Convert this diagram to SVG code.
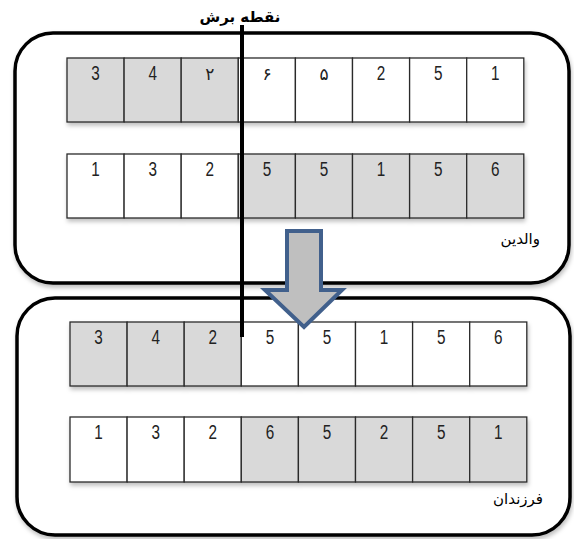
<svg xmlns="http://www.w3.org/2000/svg" width="574" height="539" viewBox="0 0 574 539">
<style>
.box{fill:#fff;stroke:#000;stroke-width:3.5}
.c{stroke:#2b2b2b;stroke-width:1.3}
.g{fill:#d9d9d9}
.w{fill:#fff}
.n{font-family:"Liberation Sans",sans-serif;font-size:19.5px;fill:#222;text-anchor:middle}
.p{font-family:"DejaVu Sans",sans-serif;font-size:17px;fill:#222;text-anchor:middle}
.lbl{font-family:"DejaVu Sans",sans-serif;font-size:15px;fill:#000;text-anchor:end}
.cut{stroke:#000;stroke-width:4;fill:none}
</style>
<defs>
<filter id="sh" x="-5%" y="-5%" width="110%" height="120%">
<feDropShadow dx="1" dy="3" stdDeviation="2" flood-color="#000" flood-opacity="0.25"/>
</filter>
</defs>
<g id="parents" >
<rect class="box" x="15" y="33" width="554" height="250" rx="38" filter="url(#sh)"/>
<g id="row1" filter="url(#sh)">
<rect class="c g" x="67" y="58" width="57.1" height="64"/>
<rect class="c g" x="124.1" y="58" width="57.1" height="64"/>
<rect class="c g" x="181.2" y="58" width="57.1" height="64"/>
<rect class="c w" x="238.3" y="58" width="57.1" height="64"/>
<rect class="c w" x="295.4" y="58" width="57.1" height="64"/>
<rect class="c w" x="352.5" y="58" width="57.1" height="64"/>
<rect class="c w" x="409.6" y="58" width="57.1" height="64"/>
<rect class="c w" x="466.7" y="58" width="57.1" height="64"/>
</g>
<text class="n" x="95.6" y="80" textLength="8.5" lengthAdjust="spacingAndGlyphs">3</text>
<text class="n" x="152.7" y="80" textLength="8.5" lengthAdjust="spacingAndGlyphs">4</text>
<text class="p" x="209.8" y="80">۲</text>
<text class="p" x="267" y="80">۶</text>
<text class="p" x="324" y="80">۵</text>
<text class="n" x="381" y="80" textLength="8.5" lengthAdjust="spacingAndGlyphs">2</text>
<text class="n" x="438.2" y="80" textLength="8.5" lengthAdjust="spacingAndGlyphs">5</text>
<text class="n" x="495.3" y="80" textLength="8.5" lengthAdjust="spacingAndGlyphs">1</text>
<g id="row2" filter="url(#sh)">
<rect class="c w" x="67" y="154" width="57.1" height="64"/>
<rect class="c w" x="124.1" y="154" width="57.1" height="64"/>
<rect class="c w" x="181.2" y="154" width="57.1" height="64"/>
<rect class="c g" x="238.3" y="154" width="57.1" height="64"/>
<rect class="c g" x="295.4" y="154" width="57.1" height="64"/>
<rect class="c g" x="352.5" y="154" width="57.1" height="64"/>
<rect class="c g" x="409.6" y="154" width="57.1" height="64"/>
<rect class="c g" x="466.7" y="154" width="57.1" height="64"/>
</g>
<text class="n" x="95.6" y="176" textLength="8.5" lengthAdjust="spacingAndGlyphs">1</text>
<text class="n" x="152.7" y="176" textLength="8.5" lengthAdjust="spacingAndGlyphs">3</text>
<text class="n" x="209.8" y="176" textLength="8.5" lengthAdjust="spacingAndGlyphs">2</text>
<text class="n" x="267" y="176" textLength="8.5" lengthAdjust="spacingAndGlyphs">5</text>
<text class="n" x="324" y="176" textLength="8.5" lengthAdjust="spacingAndGlyphs">5</text>
<text class="n" x="381" y="176" textLength="8.5" lengthAdjust="spacingAndGlyphs">1</text>
<text class="n" x="438.2" y="176" textLength="8.5" lengthAdjust="spacingAndGlyphs">5</text>
<text class="n" x="495.3" y="176" textLength="8.5" lengthAdjust="spacingAndGlyphs">6</text>
<text class="lbl" x="540" y="244">والدین</text>
</g>
<g id="children">
<rect class="box" x="17" y="298" width="553" height="237" rx="38" filter="url(#sh)"/>
<g id="row3" filter="url(#sh)">
<rect class="c g" x="70" y="322" width="57.1" height="64"/>
<rect class="c g" x="127.1" y="322" width="57.1" height="64"/>
<rect class="c g" x="184.2" y="322" width="57.1" height="64"/>
<rect class="c w" x="241.3" y="322" width="57.1" height="64"/>
<rect class="c w" x="298.4" y="322" width="57.1" height="64"/>
<rect class="c w" x="355.5" y="322" width="57.1" height="64"/>
<rect class="c w" x="412.6" y="322" width="57.1" height="64"/>
<rect class="c w" x="469.7" y="322" width="57.1" height="64"/>
</g>
<text class="n" x="98.6" y="344" textLength="8.5" lengthAdjust="spacingAndGlyphs">3</text>
<text class="n" x="155.7" y="344" textLength="8.5" lengthAdjust="spacingAndGlyphs">4</text>
<text class="n" x="212.8" y="344" textLength="8.5" lengthAdjust="spacingAndGlyphs">2</text>
<text class="n" x="269.9" y="344" textLength="8.5" lengthAdjust="spacingAndGlyphs">5</text>
<text class="n" x="327" y="344" textLength="8.5" lengthAdjust="spacingAndGlyphs">5</text>
<text class="n" x="384" y="344" textLength="8.5" lengthAdjust="spacingAndGlyphs">1</text>
<text class="n" x="441.2" y="344" textLength="8.5" lengthAdjust="spacingAndGlyphs">5</text>
<text class="n" x="498.3" y="344" textLength="8.5" lengthAdjust="spacingAndGlyphs">6</text>
<g id="row4" filter="url(#sh)">
<rect class="c w" x="70" y="417" width="57.1" height="65"/>
<rect class="c w" x="127.1" y="417" width="57.1" height="65"/>
<rect class="c w" x="184.2" y="417" width="57.1" height="65"/>
<rect class="c g" x="241.3" y="417" width="57.1" height="65"/>
<rect class="c g" x="298.4" y="417" width="57.1" height="65"/>
<rect class="c g" x="355.5" y="417" width="57.1" height="65"/>
<rect class="c g" x="412.6" y="417" width="57.1" height="65"/>
<rect class="c g" x="469.7" y="417" width="57.1" height="65"/>
</g>
<text class="n" x="98.6" y="439" textLength="8.5" lengthAdjust="spacingAndGlyphs">1</text>
<text class="n" x="155.7" y="439" textLength="8.5" lengthAdjust="spacingAndGlyphs">3</text>
<text class="n" x="212.8" y="439" textLength="8.5" lengthAdjust="spacingAndGlyphs">2</text>
<text class="n" x="269.9" y="439" textLength="8.5" lengthAdjust="spacingAndGlyphs">6</text>
<text class="n" x="327" y="439" textLength="8.5" lengthAdjust="spacingAndGlyphs">5</text>
<text class="n" x="384" y="439" textLength="8.5" lengthAdjust="spacingAndGlyphs">2</text>
<text class="n" x="441.2" y="439" textLength="8.5" lengthAdjust="spacingAndGlyphs">5</text>
<text class="n" x="498.3" y="439" textLength="8.5" lengthAdjust="spacingAndGlyphs">1</text>
<text class="lbl" x="543" y="504">فرزندان</text>
</g>
<g id="connectors">
<polygon points="287,231 321,231 321,290 342,290 304,327 265,290 287,290" fill="#bfbfbf" stroke="#41608c" stroke-width="4" stroke-linejoin="miter"/>
<line class="cut" x1="242" y1="25" x2="242" y2="337"/>
</g>
<g id="cutlabel">
<text x="240" y="22" font-family="DejaVu Sans,sans-serif" font-size="15" font-weight="bold" text-anchor="middle" fill="#000">نقطه برش</text>
</g>
</svg>
